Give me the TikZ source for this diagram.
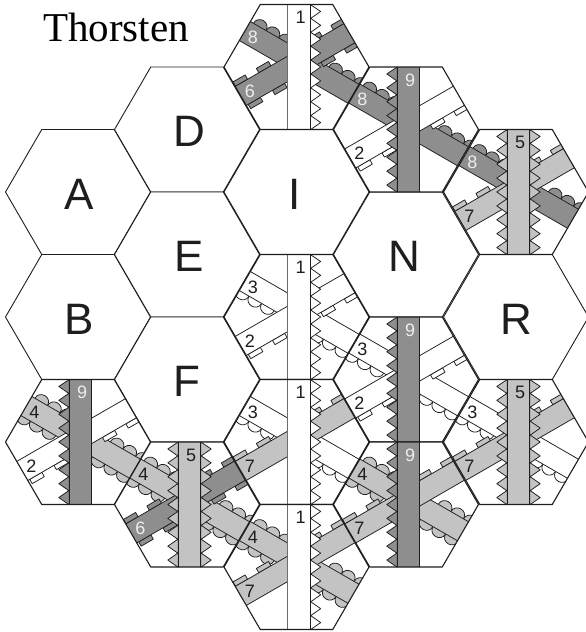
\documentclass[tikz,border=0pt]{standalone}
\usepackage{fontspec}
\setmainfont{Liberation Sans}
\newfontfamily\titlefont{Liberation Serif}
\definecolor{dk}{HTML}{8E8E8E}
\definecolor{lt}{HTML}{C3C3C3}
\definecolor{ink}{HTML}{1E1E1E}
\definecolor{pale}{HTML}{EDEDED}
\tikzset{
  edge/.style={draw=ink,line width=0.75pt,line join=round},
  hexline/.style={draw=ink,line width=1.1pt,line join=round},
  blankhex/.style={draw=ink,line width=0.9pt,fill=white,line join=round},
  bigletter/.style={inner sep=0pt,text=ink,font=\fontsize{44}{44}\selectfont},
  digit/.style={inner sep=0pt,font=\fontsize{18}{18}\selectfont},
  inkdigit/.style={digit,text=ink},
  paledigit/.style={digit,text=pale},
}
\newcommand\hexp[2]{(#1-72.5,#2) -- (#1-36.25,#2-62.5) -- (#1+36.25,#2-62.5) -- (#1+72.5,#2) -- (#1+36.25,#2+62.5) -- (#1-36.25,#2+62.5) -- cycle}
\newcommand\bumps[4]{\foreach \k in {0,1,2}{
  \path[edge,fill=#4] (#1+\k*14.6,#2) .. controls (#1+\k*14.6,#2+#3*9.7) and (#1+\k*14.6+14.6,#2+#3*9.7) .. (#1+\k*14.6+14.6,#2);}}
\newcommand\tabbox[4]{\path[edge,fill=#4] (#1-7,#2) rectangle (#1+7,#2+#3*5);}
\newcommand\bandrect[1]{\path[edge,fill=#1] (-125,-11) rectangle (125,11);}
\newcommand\Fthree{\begin{scope}[rotate=-30]
  \bumps{-66}{11}{1}{white}\bumps{20}{11}{1}{white}\bandrect{white}\end{scope}}
\newcommand\Ffour{\begin{scope}[rotate=-30]
  \bumps{-66}{11}{1}{lt}\bumps{20}{11}{1}{lt}\bumps{-59}{-11}{-1}{lt}\bumps{28}{-11}{-1}{lt}\bandrect{lt}\end{scope}}
\newcommand\Feight{\begin{scope}[rotate=-30]
  \bumps{-59}{-11}{-1}{dk}\bumps{28}{-11}{-1}{dk}\bandrect{dk}\end{scope}}
\newcommand\lowtabs[1]{\tabbox{-58}{11}{1}{#1}\tabbox{-30}{11}{1}{#1}\tabbox{26}{11}{1}{#1}\tabbox{53}{11}{1}{#1}}
\newcommand\uptabs[1]{\tabbox{-60}{-11}{-1}{#1}\tabbox{-33}{-11}{-1}{#1}\tabbox{26}{-11}{-1}{#1}\tabbox{53}{-11}{-1}{#1}}
\newcommand\Rtwo{\begin{scope}[rotate=30]\lowtabs{white}\bandrect{white}\end{scope}}
\newcommand\Rsix{\begin{scope}[rotate=30]\lowtabs{dk}\uptabs{dk}\bandrect{dk}\end{scope}}
\newcommand\Rseven{\begin{scope}[rotate=30]\uptabs{lt}\bandrect{lt}\end{scope}}
\newcommand\teeth[2]{\path[edge,fill=#2] (#1*11.2,-57.8) \foreach \k in {0,...,8}{ -- (#1*21.7,-57.8+6.95+\k*13.89) -- (#1*11.7,-57.8+13.89+\k*13.89)} -- (#1*11.2,67.2) -- cycle;}
\newcommand\Vone{\teeth{1}{white}\path[fill=white] (-11.2,-60) rectangle (11.2,70);
  \draw[draw=ink!65,line width=0.8pt] (-11.2,-60) -- (-11.2,70);\draw[edge] (11.2,-60) -- (11.2,70);}
\newcommand\Vfive{\teeth{1}{lt}\teeth{-1}{lt}\path[edge,fill=lt] (-11.2,-60) rectangle (11.2,70);}
\newcommand\Vnine{\teeth{-1}{dk}\path[edge,fill=dk] (-11.2,-60) rectangle (11.2,70);}
\newcommand\Tile[9]{%
  \path[fill=white] \hexp{#2}{#3};
  \begin{scope}
    \clip \hexp{#2}{#3};
    \begin{scope}[shift={(#2+2.5,#3-4.7)}]
      \csname F#5\endcsname
      \csname R#6\endcsname
      \csname V#4\endcsname
    \end{scope}
  \end{scope}
  \path[hexline] \hexp{#2}{#3};
  \node[#7] (#1v) at (#2+4.2,#3-49.5) {\csname N#4\endcsname};
  \node[#8] (#1f) at (#2-43.5,#3-30) {\csname N#5\endcsname};
  \node[#9] (#1r) at (#2-46.5,#3+24) {\csname N#6\endcsname};
}
\newcommand\None{1}\newcommand\Nfive{5}\newcommand\Nnine{9}
\newcommand\Nthree{3}\newcommand\Nfour{4}\newcommand\Neight{8}
\newcommand\Ntwo{2}\newcommand\Nsix{6}\newcommand\Nseven{7}
\newcommand\Blank[4]{\path[blankhex] \hexp{#2}{#3};
  \node[bigletter] (#1) at (#2+#4,#3+2) {#1};}
\begin{document}
\begin{tikzpicture}[x=1pt,y=-1pt]
\useasboundingbox (0,0) rectangle (586,632);
\Blank{A}{78}{192}{1}
\Blank{B}{78}{317}{1}
\Blank{D}{187}{129.5}{2}
\Blank{E}{187}{254.5}{2}
\Blank{F}{187}{379.5}{0}
\Blank{I}{296.5}{192}{-2}
\Blank{N}{406}{254.5}{-2}
\Blank{R}{516}{317}{0}
\Tile{a}{296.5}{67}{one}{eight}{six}{inkdigit}{paledigit}{paledigit}
\Tile{g}{516}{192}{five}{eight}{seven}{inkdigit}{paledigit}{inkdigit}
\Tile{b}{406}{129.5}{nine}{eight}{two}{paledigit}{paledigit}{inkdigit}
\Tile{c}{296.5}{317}{one}{three}{two}{inkdigit}{inkdigit}{inkdigit}
\Tile{h}{516}{442}{five}{three}{seven}{inkdigit}{inkdigit}{inkdigit}
\Tile{d}{406}{379.5}{nine}{three}{two}{paledigit}{inkdigit}{inkdigit}
\Tile{i}{78}{442}{nine}{four}{two}{paledigit}{inkdigit}{inkdigit}
\Tile{e}{296.5}{442}{one}{three}{seven}{inkdigit}{inkdigit}{inkdigit}
\Tile{f}{406}{504.5}{nine}{four}{seven}{paledigit}{inkdigit}{inkdigit}
\Tile{j}{187}{504.5}{five}{four}{six}{inkdigit}{inkdigit}{paledigit}
\Tile{k}{296.5}{567}{one}{four}{seven}{inkdigit}{inkdigit}{inkdigit}
\node[anchor=base,inner sep=0pt,text=black,font=\titlefont\fontsize{41}{41}\selectfont] (title) at (116,41.5) {Thorsten};
\end{tikzpicture}
\end{document}
